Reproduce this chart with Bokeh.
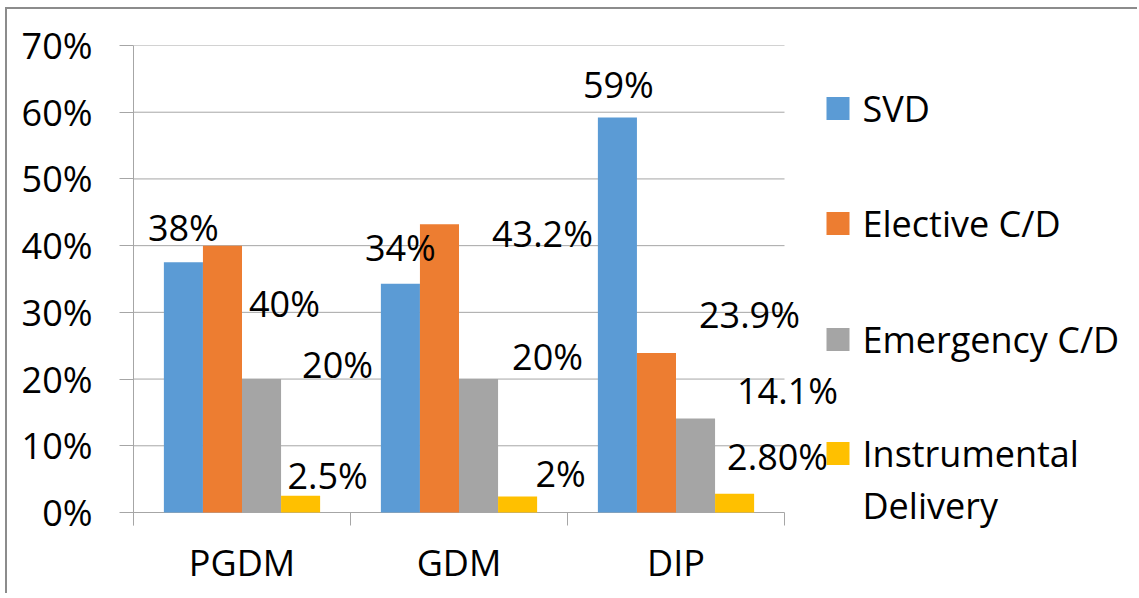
from bokeh.plotting import figure
from bokeh.models import (Range1d, LinearAxis, FixedTicker,
                          ColumnDataSource, LabelSet, Label, BoxAnnotation)
from bokeh.transform import dodge
from bokeh.core.properties import value
from bokeh.embed import file_html
from bokeh.resources import INLINE

# ---------------- data ----------------
categories = ["PGDM", "GDM", "DIP"]
series_names = ["SVD", "Elective C/D", "Emergency C/D", "Instrumental Delivery"]
svd = [37.5, 34.3, 59.2]
elective = [40.0, 43.2, 23.9]
emergency = [20.0, 20.0, 14.1]
instrumental = [2.5, 2.4, 2.8]
svd_labels = ["38%", "34%", "59%"]
elective_labels = ["40%", "43.2%", "23.9%"]
emergency_labels = ["20%", "20%", "14.1%"]
instrumental_labels = ["2.5%", "2%", "2.80%"]
y_ticks = [0, 10, 20, 30, 40, 50, 60, 70]
y_tick_labels = ["0%", "10%", "20%", "30%", "40%", "50%", "60%", "70%"]

series_values = [svd, elective, emergency, instrumental]
series_labels = [svd_labels, elective_labels, emergency_labels, instrumental_labels]

# ---------------- style / layout ----------------
colors = ["#5B9BD5", "#ED7D31", "#A5A5A5", "#FFC000"]
bar_offsets = [-0.27, -0.09, 0.09, 0.27]
bar_width = 0.18
# pixel shifts of the value labels relative to the bar top (right, up)
label_dx = [[0, 0, 1], [62, 103, 93], [76, 69, 92], [27, 43, 43]]
label_dy = [[35, 36, 33], [-58, -9, 39], [15, 23, 28], [20, 23, 37]]
FONT = "Open Sans"
FS = "36px"
GRID_COLOR = "#a6a6a6"
BORDER_COLOR = "#8c8c8c"
PAGE_W, PAGE_H = 1139, 598
OFF_X, OFF_Y = 7, 9                      # canvas origin on the page
W, H = PAGE_W - OFF_X, PAGE_H - OFF_Y - 3
# plot area (page coordinates): left axis, right end of categories, 70% line, 0% line
PA_L, PA_R, PA_T, PA_B = 133, 784, 45, 512
TICK_LOW = 525                           # lower end of the category separator ticks
FB = 535                                 # bottom of the drawing frame
px_per_unit = (PA_B - PA_T) / y_ticks[-1]
y_start = -(FB - PA_B) / px_per_unit
tick_low = -(TICK_LOW - PA_B) / px_per_unit
frame_left = PA_L - OFF_X
frame_top = PA_T - OFF_Y
frame_bottom = H - (FB - OFF_Y)
# the frame continues to the right edge so that labels and the legend can sit there
x_end = len(categories) * (W - frame_left) / (PA_R - PA_L)

cat_x = [i + 0.5 for i in range(len(categories))]
bounds = [float(i) for i in range(len(categories) + 1)]

p = figure(x_range=Range1d(0, x_end), y_range=Range1d(y_start, y_ticks[-1]),
           width=W, height=H, output_backend="svg", toolbar_location=None,
           x_axis_location=None, y_axis_location=None,
           min_border_left=frame_left, min_border_right=0,
           min_border_top=frame_top, min_border_bottom=frame_bottom)
p.outline_line_color = None
p.background_fill_color = "white"
p.border_fill_color = "white"
p.styles = {"margin-left": f"{OFF_X}px", "margin-top": f"{OFF_Y}px", "vertical-align": "top",
            "box-shadow": f"-2px -2px 0px 0px {BORDER_COLOR}"}
p.center = []

# horizontal gridlines (the 0% one is the category axis line), limited to the category area
gl = p.segment(x0=[0] * len(y_ticks), x1=[len(categories)] * len(y_ticks), y0=y_ticks, y1=y_ticks,
               line_color=GRID_COLOR, line_width=1)
gl.level = "underlay"
# category separator ticks below the axis line
st = p.segment(x0=bounds, x1=bounds, y0=[tick_low] * len(bounds), y1=[0] * len(bounds),
               line_color=GRID_COLOR, line_width=1)
st.level = "underlay"

# y axis
yax = LinearAxis(ticker=FixedTicker(ticks=y_ticks),
                 major_label_overrides={t: l for t, l in zip(y_ticks, y_tick_labels)},
                 bounds=(tick_low, y_ticks[-1]))
yax.major_tick_out = 14
yax.major_tick_in = 0
yax.minor_tick_out = 0
yax.minor_tick_in = 0
yax.axis_line_color = GRID_COLOR
yax.major_tick_line_color = GRID_COLOR
yax.major_label_standoff = 27
yax.major_label_text_font = FONT
yax.major_label_text_font_size = FS
yax.major_label_text_color = "black"
p.add_layout(yax, "left")

# category names at slot centres
cax = LinearAxis(ticker=FixedTicker(ticks=cat_x),
                 major_label_overrides={x: c for x, c in zip(cat_x, categories)})
cax.axis_line_color = None
cax.major_tick_line_color = None
cax.minor_tick_line_color = None
cax.major_tick_out = 0
cax.major_tick_in = 0
cax.minor_tick_out = 0
cax.minor_tick_in = 0
cax.major_label_standoff = 2
cax.major_label_text_font = FONT
cax.major_label_text_font_size = FS
cax.major_label_text_color = "black"
p.add_layout(cax, "below")

for i, name in enumerate(series_names):
    src = ColumnDataSource(dict(x=cat_x, cat=categories, val=series_values[i], txt=series_labels[i],
                                dx=label_dx[i], dy=label_dy[i]))
    p.vbar(x=dodge("x", bar_offsets[i]), top="val", width=bar_width,
           source=src, fill_color=colors[i], line_color=None)
    p.add_layout(LabelSet(x=dodge("x", bar_offsets[i]), y="val", text="txt",
                          x_offset="dx", y_offset="dy", source=src,
                          text_align="center", text_baseline="middle",
                          text_font=value(FONT), text_font_size=FS, text_color="black"))

# legend (manual, frame-relative screen units; page positions converted)
legend_rows_y = [108, 223, 339, 453]
SW = 23
for i, name in enumerate(series_names):
    cy = legend_rows_y[i]
    p.add_layout(BoxAnnotation(left=826 - PA_L, right=826 - PA_L + SW,
                               top=FB - (cy - SW / 2), bottom=FB - (cy + SW / 2),
                               left_units="screen", right_units="screen",
                               top_units="screen", bottom_units="screen",
                               fill_color=colors[i], fill_alpha=1, line_color=None))
    words = name.split(" ")
    lines = [name] if len(name) < 16 else [" ".join(words[:-1]), words[-1]]
    for j, line in enumerate(lines):
        p.add_layout(Label(x=862 - PA_L, y=FB - (cy + 52 * j), x_units="screen", y_units="screen",
                           text=line, text_align="left", text_baseline="middle",
                           text_font=FONT, text_font_size=FS, text_color="black"))

open("out.html", "w").write(file_html(p, INLINE))
